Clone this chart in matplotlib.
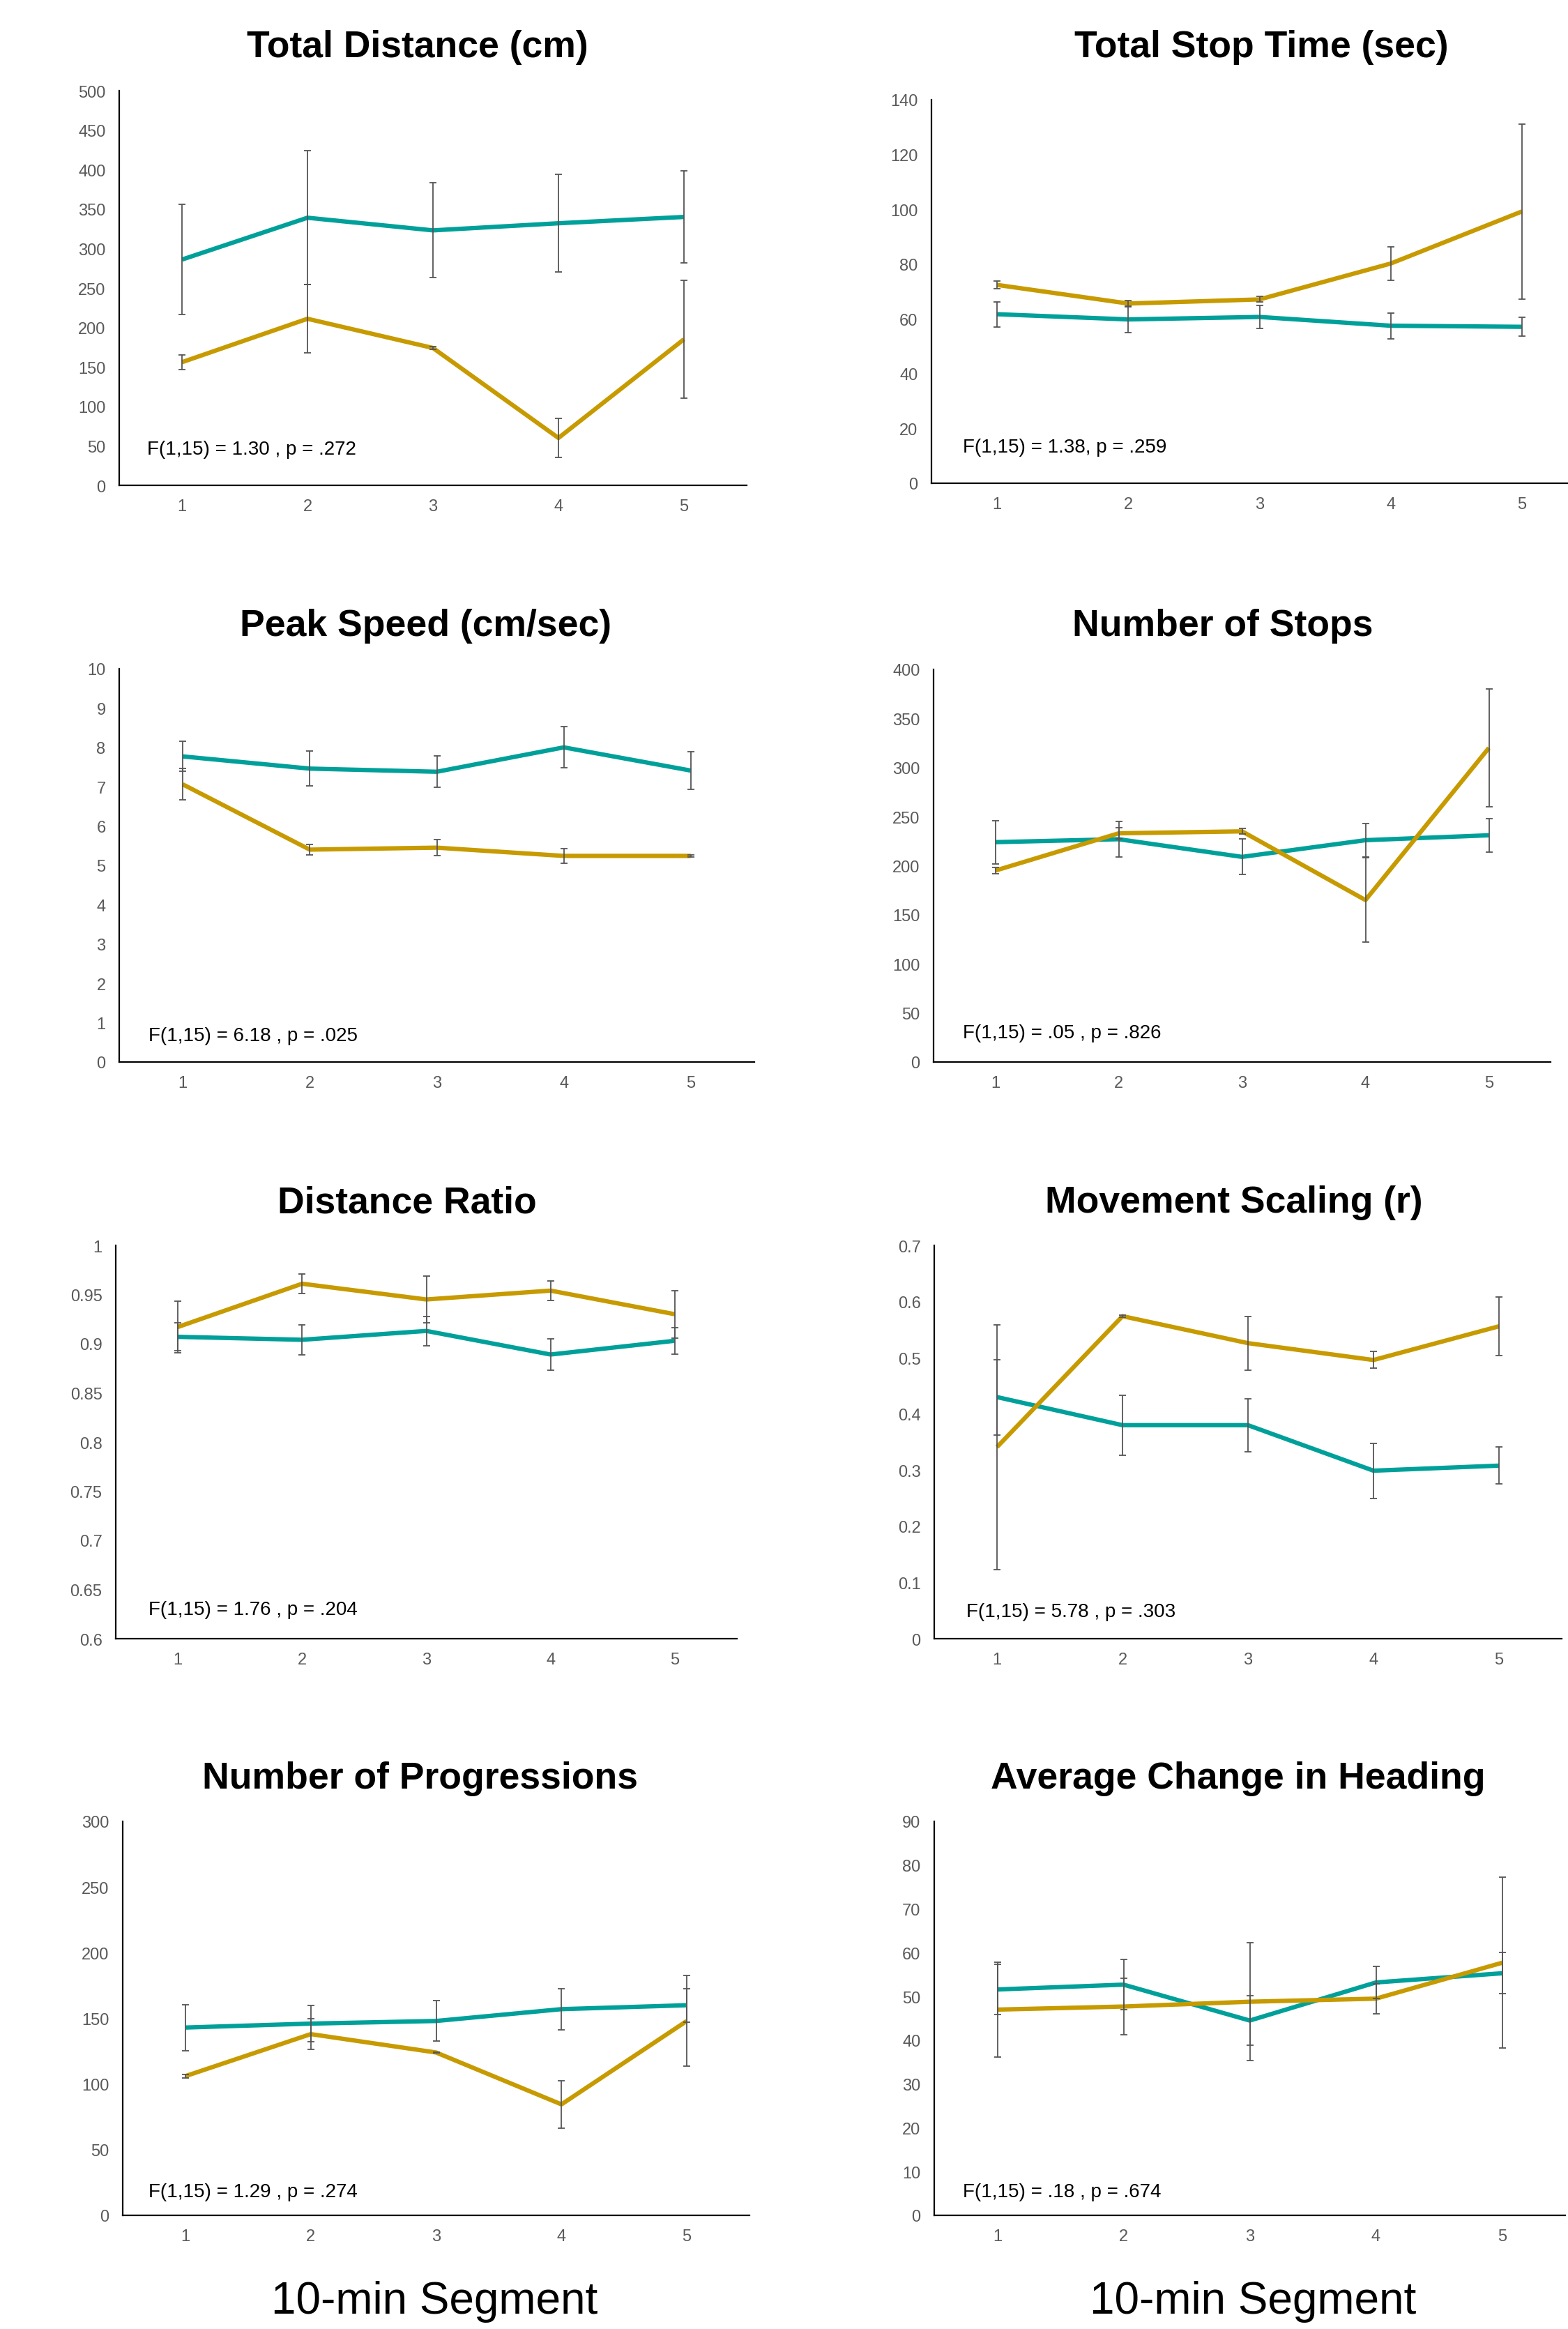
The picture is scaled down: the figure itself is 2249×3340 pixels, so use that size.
import matplotlib
matplotlib.use("Agg")
import matplotlib.pyplot as plt
from matplotlib.ticker import FixedLocator

plt.rcParams["font.family"] = ["Liberation Sans", "DejaVu Sans"]

TEAL = "#00A09A"
GOLD = "#C79A00"
ERR = "#555555"
TICK = "#595959"

segments = [1, 2, 3, 4, 5]

# Total Distance (cm)
dist_a = [286, 339, 323, 332, 340]
dist_a_err = [70, 85, 60, 62, 58]
dist_b = [156, 211, 174, 60, 185]
dist_b_err = [9, 43, 2, 25, 75]

# Total Stop Time (sec)
stop_a = [61.7, 59.8, 60.7, 57.5, 57.1]
stop_a_err = [4.6, 4.7, 4.1, 4.7, 3.5]
stop_b = [72.4, 65.6, 67.1, 80.2, 99.2]
stop_b_err = [1.5, 1.0, 1.0, 6.0, 32.0]

# Peak Speed (cm/sec)
speed_a = [7.77, 7.46, 7.38, 8.00, 7.41]
speed_a_err = [0.38, 0.44, 0.40, 0.52, 0.48]
speed_b = [7.06, 5.40, 5.45, 5.24, 5.24]
speed_b_err = [0.40, 0.13, 0.20, 0.18, 0.02]

# Number of Stops
nstop_a = [224, 227, 209, 226, 231]
nstop_a_err = [22, 18, 18, 17, 17]
nstop_b = [195, 233, 235, 165, 320]
nstop_b_err = [3, 6, 3, 43, 60]

# Distance Ratio
ratio_a = [0.907, 0.904, 0.913, 0.889, 0.903]
ratio_a_err = [0.014, 0.015, 0.015, 0.016, 0.0135]
ratio_b = [0.917, 0.961, 0.945, 0.954, 0.930]
ratio_b_err = [0.026, 0.010, 0.024, 0.010, 0.024]

# Movement Scaling (r)
scal_a = [0.430, 0.380, 0.380, 0.299, 0.308]
scal_a_err = [0.067, 0.053, 0.047, 0.049, 0.033]
scal_b = [0.341, 0.574, 0.526, 0.496, 0.556]
scal_b_err = [0.218, 0.002, 0.048, 0.015, 0.052]

# Number of Progressions
prog_a = [143, 146, 148, 157, 160]
prog_a_err = [17.5, 14, 15.3, 15.5, 12.8]
prog_b = [106, 138, 124, 84.5, 148]
prog_b_err = [1.5, 11.5, 0.5, 18, 34.5]

# Average Change in Heading
head_a = [51.6, 52.7, 44.5, 53.2, 55.3]
head_a_err = [5.7, 5.7, 5.7, 3.6, 4.7]
head_b = [47.0, 47.7, 48.8, 49.5, 57.7]
head_b_err = [10.8, 6.4, 13.5, 3.4, 19.5]

titles = ["Total Distance (cm)", "Total Stop Time (sec)",
          "Peak Speed (cm/sec)", "Number of Stops",
          "Distance Ratio", "Movement Scaling (r)",
          "Number of Progressions", "Average Change in Heading"]

stats = ["F(1,15) = 1.30 , p = .272", "F(1,15) = 1.38, p = .259",
         "F(1,15) = 6.18 , p = .025", "F(1,15) = .05 , p = .826",
         "F(1,15) = 1.76 , p = .204", "F(1,15) = 5.78 , p = .303",
         "F(1,15) = 1.29 , p = .274", "F(1,15) = .18 , p = .674"]

series = [
    (dist_a, dist_a_err, dist_b, dist_b_err),
    (stop_a, stop_a_err, stop_b, stop_b_err),
    (speed_a, speed_a_err, speed_b, speed_b_err),
    (nstop_a, nstop_a_err, nstop_b, nstop_b_err),
    (ratio_a, ratio_a_err, ratio_b, ratio_b_err),
    (scal_a, scal_a_err, scal_b, scal_b_err),
    (prog_a, prog_a_err, prog_b, prog_b_err),
    (head_a, head_a_err, head_b, head_b_err),
]

yticks = [
    [0, 50, 100, 150, 200, 250, 300, 350, 400, 450, 500],
    [0, 20, 40, 60, 80, 100, 120, 140],
    [0, 1, 2, 3, 4, 5, 6, 7, 8, 9, 10],
    [0, 50, 100, 150, 200, 250, 300, 350, 400],
    [0.6, 0.65, 0.7, 0.75, 0.8, 0.85, 0.9, 0.95, 1],
    [0, 0.1, 0.2, 0.3, 0.4, 0.5, 0.6, 0.7],
    [0, 50, 100, 150, 200, 250, 300],
    [0, 10, 20, 30, 40, 50, 60, 70, 80, 90],
]

# layout in pixels: axes box (left, right, top, bottom), title centre, stats text
W, H = 2249, 3341
boxes = [(171, 1071, 131, 697), (1336, 2277, 144, 694),
         (171, 1082, 960, 1524), (1339, 2224, 961, 1524),
         (166, 1057, 1787, 2351), (1340, 2240, 1787, 2351),
         (176, 1075, 2613, 3178), (1340, 2245, 2613, 3178)]
title_pos = [(599, 68), (1809, 68), (611, 898), (1754, 898),
             (584, 1725), (1770, 1725), (602, 2551), (1776, 2551)]
stat_pos = [(211, 645), (1381, 642), (213, 1486), (1381, 1482),
            (213, 2309), (1386, 2312), (213, 3144), (1381, 3144)]


def fmt(v):
    return ("%g" % v)


fig = plt.figure(figsize=(W / 100, H / 100), dpi=100)

for i in range(8):
    l, r, t, b = boxes[i]
    ax = fig.add_axes([l / W, 1 - b / H, (r - l) / W, (b - t) / H])
    a, a_err, g, g_err = series[i]

    ax.plot(segments, a, color=TEAL, lw=4.5, solid_capstyle="butt", zorder=2)
    ax.plot(segments, g, color=GOLD, lw=4.5, solid_capstyle="butt", zorder=2)
    for vals, errs in [(a, a_err), (g, g_err)]:
        ax.errorbar(segments, vals, yerr=errs, fmt="none", ecolor=ERR,
                    elinewidth=1.3, capsize=3.5, capthick=1.3, zorder=3)

    ticks = yticks[i]
    ax.set_ylim(ticks[0], ticks[-1])
    ax.set_xlim(0.5, 5.5)
    ax.yaxis.set_major_locator(FixedLocator(ticks))
    ax.set_yticklabels([fmt(v) for v in ticks])
    ax.set_xticks(segments)
    ax.tick_params(axis="both", length=0, labelsize=17, labelcolor=TICK)
    ax.tick_params(axis="y", pad=14)
    ax.tick_params(axis="x", pad=14)

    for s in ["top", "right"]:
        ax.spines[s].set_visible(False)
    for s in ["left", "bottom"]:
        ax.spines[s].set_linewidth(1.6)
        ax.spines[s].set_color("black")
    ax.patch.set_alpha(0)

    tx, ty = title_pos[i]
    fig.text(tx / W, 1 - ty / H, titles[i], ha="center", va="center",
             fontsize=38.5, fontweight="bold")
    sx, sy = stat_pos[i]
    fig.text(sx / W, 1 - sy / H, stats[i], ha="left", va="center",
             fontsize=20)

fig.text(623 / W, 1 - 3301 / H, "10-min Segment", ha="center", va="center",
         fontsize=46)
fig.text(1797 / W, 1 - 3301 / H, "10-min Segment", ha="center", va="center",
         fontsize=46)

fig.savefig("out.png", dpi=100, facecolor="white")
